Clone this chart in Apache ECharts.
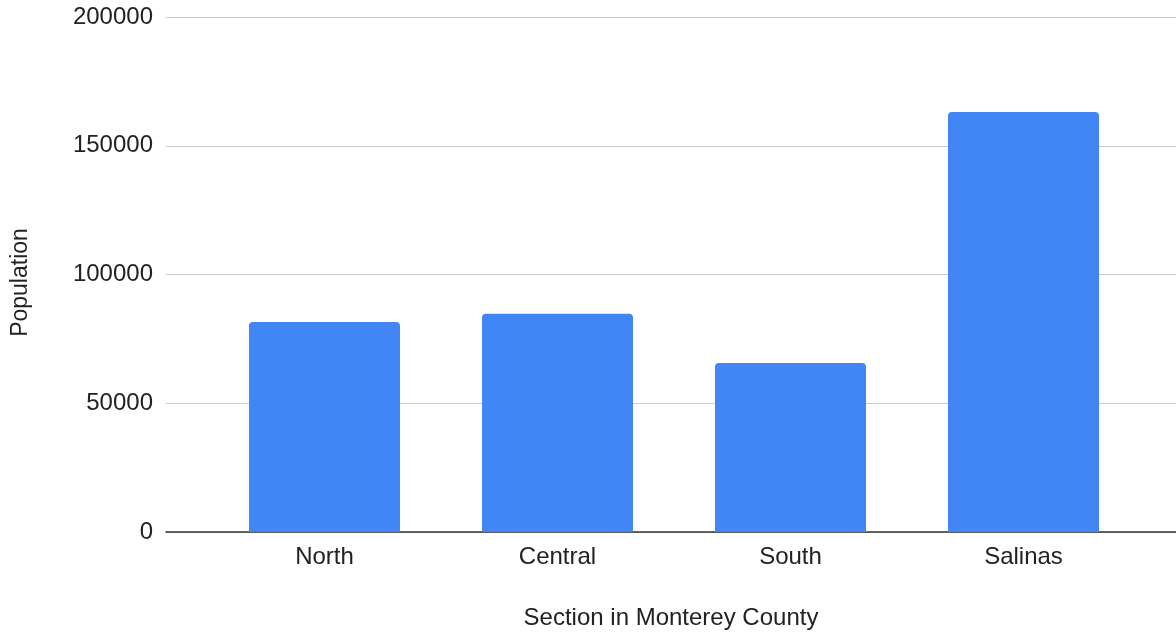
<!DOCTYPE html>
<html>
<head>
<meta charset="utf-8">
<script src="https://cdn.jsdelivr.net/npm/echarts@6/dist/echarts.min.js"></script>
<style>html,body{margin:0;padding:0;background:#fff;}#c{width:1176px;height:636px;}</style>
</head>
<body>
<div id="c"></div>
<script>
const categories = ['North', 'Central', 'South', 'Salinas'];
const population = [81600, 84800, 65600, 163100];
const yTicks = { min: 0, max: 200000, interval: 50000 };
const xTitle = 'Section in Monterey County';
const yTitle = 'Population';

const font = 'Arial, "Liberation Sans", sans-serif';
const chart = echarts.init(document.getElementById('c'));
chart.setOption({
  animation: false,
  backgroundColor: '#fff',
  grid: [
    { left: 166, right: 0, top: 17, bottom: 104, containLabel: false, outerBoundsMode: 'none' },
    { left: 208, right: 36, top: 17, bottom: 104, containLabel: false, outerBoundsMode: 'none' }
  ],
  xAxis: [
    {
      gridIndex: 0, type: 'value', min: 0, max: 1,
      axisLine: { show: true, onZero: false, lineStyle: { color: '#333', width: 1.5 } },
      axisTick: { show: false }, axisLabel: { show: false }, splitLine: { show: false },
      name: xTitle, nameLocation: 'middle', nameGap: 74,
      nameTextStyle: { fontFamily: font, fontSize: 24, color: '#222' }
    },
    {
      gridIndex: 1, type: 'category', data: categories,
      axisLine: { show: false }, axisTick: { show: false },
      axisLabel: { fontFamily: font, fontSize: 24, color: '#222', margin: 13 }
    }
  ],
  yAxis: [
    {
      gridIndex: 0, type: 'value', min: yTicks.min, max: yTicks.max, interval: yTicks.interval,
      axisLine: { show: false }, axisTick: { show: false },
      axisLabel: { fontFamily: font, fontSize: 24, color: '#222', margin: 13, formatter: v => String(v) },
      splitLine: { lineStyle: { color: '#cccccc', width: 1.2 } },
      name: yTitle, nameLocation: 'middle', nameGap: 134, nameRotate: 90,
      nameTextStyle: { fontFamily: font, fontSize: 23, color: '#222', padding: [0, 16, 0, 0] }
    },
    {
      gridIndex: 1, type: 'value', min: yTicks.min, max: yTicks.max, interval: yTicks.interval,
      show: false
    }
  ],
  series: [
    {
      type: 'bar', xAxisIndex: 1, yAxisIndex: 1, data: population,
      barWidth: 151,
      itemStyle: { color: '#4285F4', borderRadius: [4, 4, 0, 0] }
    }
  ]
});
</script>
</body>
</html>
